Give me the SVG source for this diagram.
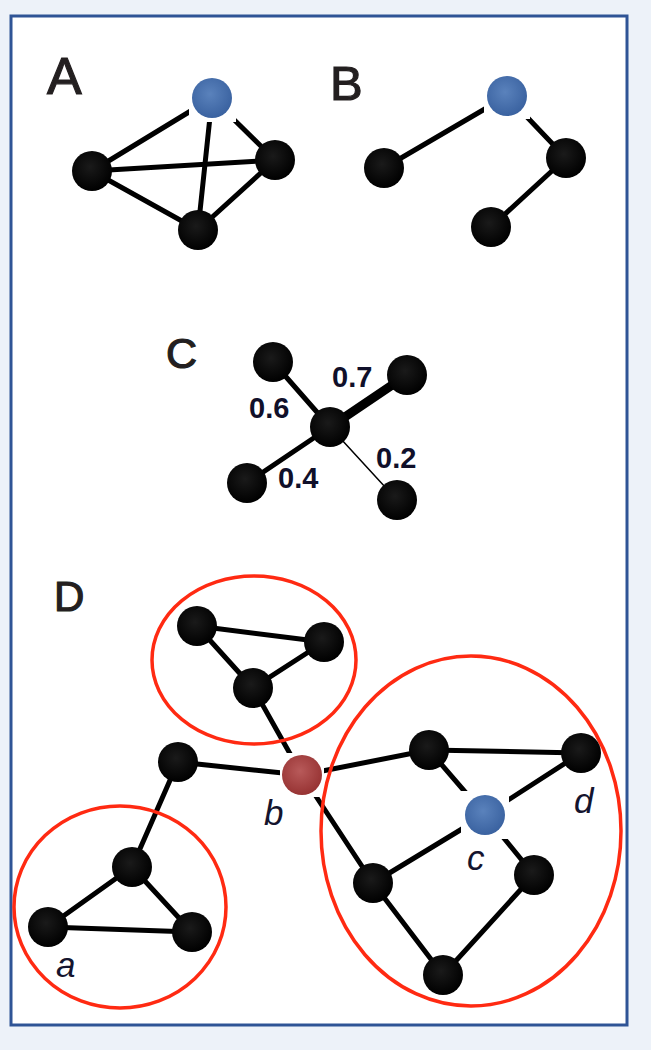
<svg xmlns="http://www.w3.org/2000/svg" width="651" height="1050" viewBox="0 0 651 1050">
<defs>
<radialGradient id="gBlack" cx="0.45" cy="0.4" r="0.6"><stop offset="0" stop-color="#1a1a1a"/><stop offset="1" stop-color="#000"/></radialGradient>
<radialGradient id="gBlue" cx="0.45" cy="0.4" r="0.6"><stop offset="0" stop-color="#5a82bc"/><stop offset="1" stop-color="#3a62a0"/></radialGradient>
<radialGradient id="gRed" cx="0.45" cy="0.4" r="0.6"><stop offset="0" stop-color="#b85a5a"/><stop offset="1" stop-color="#973333"/></radialGradient>
<style>
.e{stroke:#000;stroke-width:5;stroke-linecap:round;fill:none}
.n{fill:url(#gBlack)}
.blue{fill:url(#gBlue)}
.red{fill:url(#gRed)}
.halo{fill:#fff}
.panel{font-family:"Liberation Sans",Arial,sans-serif;fill:#231f20;stroke:#231f20;stroke-width:1.2}
.w{font-family:"Liberation Sans",Arial,sans-serif;font-weight:bold;font-size:29px;fill:#10102a}
.lab{font-family:"Liberation Sans",Arial,sans-serif;font-style:italic;font-size:35px;fill:#14142e}
.cl{fill:none;stroke:#ff2a12;stroke-width:3.5}
</style>
</defs>
<rect x="0" y="0" width="651" height="1050" fill="#edf2f9"/>
<rect x="11" y="16" width="616" height="1009" fill="#fff" stroke="#2f5496" stroke-width="3"/>

<g id="labels">
<text class="panel" x="47" y="94" font-size="52">A</text>
<text class="panel" x="330" y="100" font-size="49">B</text>
<text class="panel" x="166" y="368" font-size="43">C</text>
<text class="panel" x="54" y="611" font-size="42">D</text>
</g>

<g id="connectors">
<!-- A -->
<line class="e" x1="212" y1="98" x2="92" y2="171"/>
<line class="e" x1="212" y1="98" x2="198" y2="230"/>
<line class="e" x1="212" y1="98" x2="275" y2="160"/>
<line class="e" x1="92" y1="171" x2="275" y2="160"/>
<line class="e" x1="92" y1="171" x2="198" y2="230"/>
<line class="e" x1="275" y1="160" x2="198" y2="230"/>
<!-- B -->
<line class="e" x1="507" y1="96" x2="384" y2="168"/>
<line class="e" x1="507" y1="96" x2="566" y2="158"/>
<line class="e" x1="566" y1="158" x2="491" y2="227"/>
<!-- C -->
<line class="e" x1="330" y1="427" x2="273" y2="362"/>
<line class="e" x1="330" y1="427" x2="407" y2="375" style="stroke-width:9"/>
<line class="e" x1="330" y1="427" x2="247" y2="483"/>
<line class="e" x1="330" y1="427" x2="397" y2="500" style="stroke-width:1.5"/>
<!-- D top cluster -->
<line class="e" x1="197" y1="626" x2="324" y2="642"/>
<line class="e" x1="197" y1="626" x2="253" y2="688"/>
<line class="e" x1="324" y1="642" x2="253" y2="688"/>
<line class="e" x1="253" y1="688" x2="302" y2="775"/>
<!-- D left -->
<line class="e" x1="178" y1="762" x2="302" y2="775"/>
<line class="e" x1="178" y1="762" x2="132" y2="867"/>
<line class="e" x1="132" y1="867" x2="48" y2="927"/>
<line class="e" x1="132" y1="867" x2="192" y2="932"/>
<line class="e" x1="48" y1="927" x2="192" y2="932"/>
<!-- D right -->
<line class="e" x1="302" y1="775" x2="429" y2="750"/>
<line class="e" x1="429" y1="750" x2="581" y2="753"/>
<line class="e" x1="429" y1="750" x2="485" y2="815"/>
<line class="e" x1="581" y1="753" x2="485" y2="815"/>
<line class="e" x1="485" y1="815" x2="373" y2="883"/>
<line class="e" x1="485" y1="815" x2="534" y2="875"/>
<line class="e" x1="302" y1="775" x2="373" y2="883"/>
<line class="e" x1="373" y1="883" x2="443" y2="975"/>
<line class="e" x1="443" y1="975" x2="534" y2="875"/>
</g>

<g id="halos">
<rect class="halo" x="189" y="75" width="47" height="47"/>
<rect class="halo" x="484" y="73" width="46" height="46"/>
<rect class="halo" x="280" y="753" width="44" height="44"/>
<rect class="halo" x="461" y="791" width="48" height="48"/>
</g>

<g id="clusters">
<ellipse class="cl" cx="254" cy="660" rx="102" ry="84"/>
<ellipse class="cl" cx="120" cy="907" rx="106" ry="101"/>
<ellipse class="cl" cx="471" cy="831" rx="150" ry="175"/>
</g>

<g id="graphA">
<circle id="A-blue" class="blue" cx="212" cy="98" r="20"/>
<circle id="A-left" class="n" cx="92" cy="171" r="20"/>
<circle id="A-right" class="n" cx="275" cy="160" r="20"/>
<circle id="A-bottom" class="n" cx="198" cy="230" r="20"/>
</g>
<g id="graphB">
<circle id="B-blue" class="blue" cx="507" cy="96" r="20"/>
<circle id="B-left" class="n" cx="384" cy="168" r="20"/>
<circle id="B-right" class="n" cx="566" cy="158" r="20"/>
<circle id="B-bottom" class="n" cx="491" cy="227" r="20"/>
</g>
<g id="graphC">
<circle id="C-center" class="n" cx="330" cy="427" r="20"/>
<circle id="C-tl" class="n" cx="273" cy="362" r="20"/>
<circle id="C-tr" class="n" cx="407" cy="375" r="20"/>
<circle id="C-bl" class="n" cx="247" cy="483" r="20"/>
<circle id="C-br" class="n" cx="397" cy="500" r="20"/>
<text class="w" x="332" y="387">0.7</text>
<text class="w" x="249" y="418">0.6</text>
<text class="w" x="278" y="488">0.4</text>
<text class="w" x="376" y="468">0.2</text>
</g>
<g id="graphD">
<circle id="D-t1" class="n" cx="197" cy="626" r="20"/>
<circle id="D-t2" class="n" cx="324" cy="642" r="20"/>
<circle id="D-t3" class="n" cx="253" cy="688" r="20"/>
<circle id="D-b" class="red" cx="302" cy="775" r="20"/>
<circle id="D-l" class="n" cx="178" cy="762" r="20"/>
<circle id="D-lt" class="n" cx="132" cy="867" r="20"/>
<circle id="D-a" class="n" cx="48" cy="927" r="20"/>
<circle id="D-lr" class="n" cx="192" cy="932" r="20"/>
<circle id="D-r1" class="n" cx="429" cy="750" r="20"/>
<circle id="D-d" class="n" cx="581" cy="753" r="20"/>
<circle id="D-c" class="blue" cx="485" cy="815" r="20"/>
<circle id="D-r3" class="n" cx="373" cy="883" r="20"/>
<circle id="D-r4" class="n" cx="534" cy="875" r="20"/>
<circle id="D-r5" class="n" cx="443" cy="975" r="20"/>
<text class="lab" x="56" y="977">a</text>
<text class="lab" x="264" y="825">b</text>
<text class="lab" x="467" y="870">c</text>
<text class="lab" x="574" y="813">d</text>
</g>
</svg>
